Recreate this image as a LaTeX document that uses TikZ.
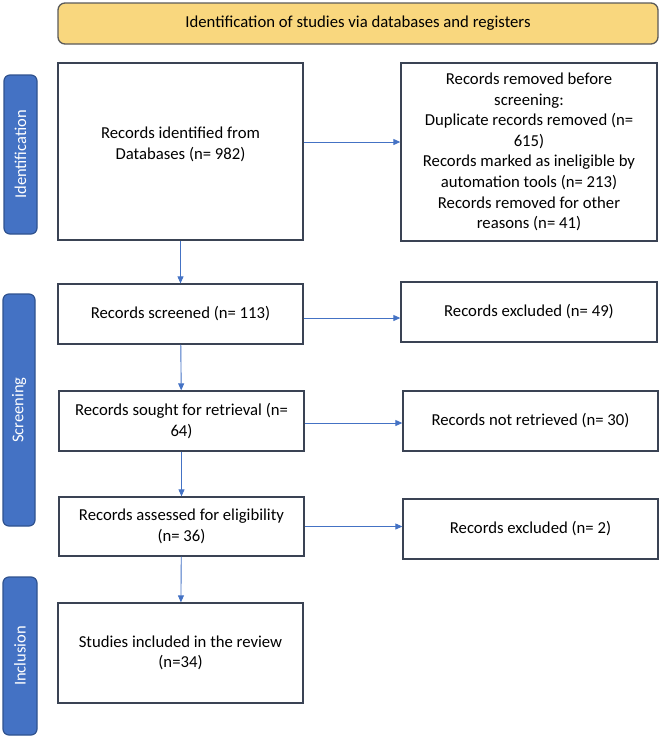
\documentclass[tikz,border=0pt]{standalone}
\usepackage{fontspec}
\setmainfont{Carlito}
\usepackage{xcolor}
\usepackage{tikz}
\usetikzlibrary{arrows.meta}

\definecolor{barblue}{HTML}{4472C4}
\definecolor{bardark}{HTML}{2F528F}
\definecolor{boxline}{HTML}{3A4354}
\definecolor{headfill}{HTML}{F9D77E}
\definecolor{headline}{HTML}{5A5A5A}

\tikzset{
  recbox/.style={draw=boxline, line width=1.3pt, fill=white, align=center, inner sep=2pt,
    font=\fontsize{16.7}{20.6}\selectfont},
  phasebar/.style={draw=bardark, line width=1.2pt, fill=barblue, rounded corners=6pt,
    rotate=90, text=white, inner sep=1pt, font=\fontsize{16.5}{20}\selectfont},
  flow/.style={draw=barblue, line width=0.9pt, -{Triangle[length=7pt,width=6pt]}}
}

\begin{document}
\begin{tikzpicture}[x=1pt,y=-1pt]
\useasboundingbox (0,0) rectangle (661,737);

\node (head) at (358,23.5) [draw=headline, line width=1.3pt, fill=headfill, rounded corners=7pt,
  minimum width=600, minimum height=41, font=\fontsize{16.7}{20.6}\selectfont]
  {Identification of studies via databases and registers};

% phase bars
\node (idbar) at (20.5,154.5) [phasebar, minimum width=159, minimum height=33] {Identification};
\node (scbar) at (19,410) [phasebar, minimum width=232, minimum height=32] {Screening};
\node (incbar) at (20,656) [phasebar, minimum width=158, minimum height=34] {Inclusion};

% left column
\node (found) at (180.5,151.5) [recbox, minimum width=245, minimum height=177]
  {Records identified from\\Databases (n= 982)\\[-3.6pt]};
\node (screened) at (180.5,314) [recbox, minimum width=245, minimum height=60]
  {Records screened (n= 113)};
\node (sought) at (181.5,421) [recbox, minimum width=245, minimum height=60]
  {Records sought for retrieval (n=\\64)};
\node (assessed) at (181.5,526.5) [recbox, minimum width=245, minimum height=59]
  {Records assessed for eligibility\\(n= 36)};
\node (included) at (180.5,653) [recbox, minimum width=245, minimum height=100]
  {Studies included in the review\\(n=34)};

% right column
\node (removed) at (529,152) [recbox, minimum width=256, minimum height=178]
  {Records removed before\\screening:\\Duplicate records removed (n=\\615)\\Records marked as ineligible by\\automation tools (n= 213)\\Records removed for other\\reasons (n= 41)};
\node (excl1) at (529,312) [recbox, minimum width=256, minimum height=60]
  {Records excluded (n= 49)};
\node (notret) at (530.5,421) [recbox, minimum width=255, minimum height=60]
  {Records not retrieved (n= 30)};
\node (excl2) at (530.5,529) [recbox, minimum width=255, minimum height=60]
  {Records excluded (n= 2)};

\draw[flow] ([yshift=9.5pt]found.east) -- ([yshift=9.5pt]found.east -| removed.west);
\draw[flow] (found) -- (screened);
\draw[flow] (screened) -- (sought);
\draw[flow] (sought) -- (assessed);
\draw[flow] (assessed) -- (included);
\draw[flow] ([yshift=-4pt]screened.east) -- ([yshift=-4pt]screened.east -| excl1.west);
\draw[flow] ([yshift=-2pt]sought.east) -- ([yshift=-2pt]sought.east -| notret.west);
\draw[flow] (assessed.east) -- (assessed.east -| excl2.west);
\end{tikzpicture}
\end{document}
